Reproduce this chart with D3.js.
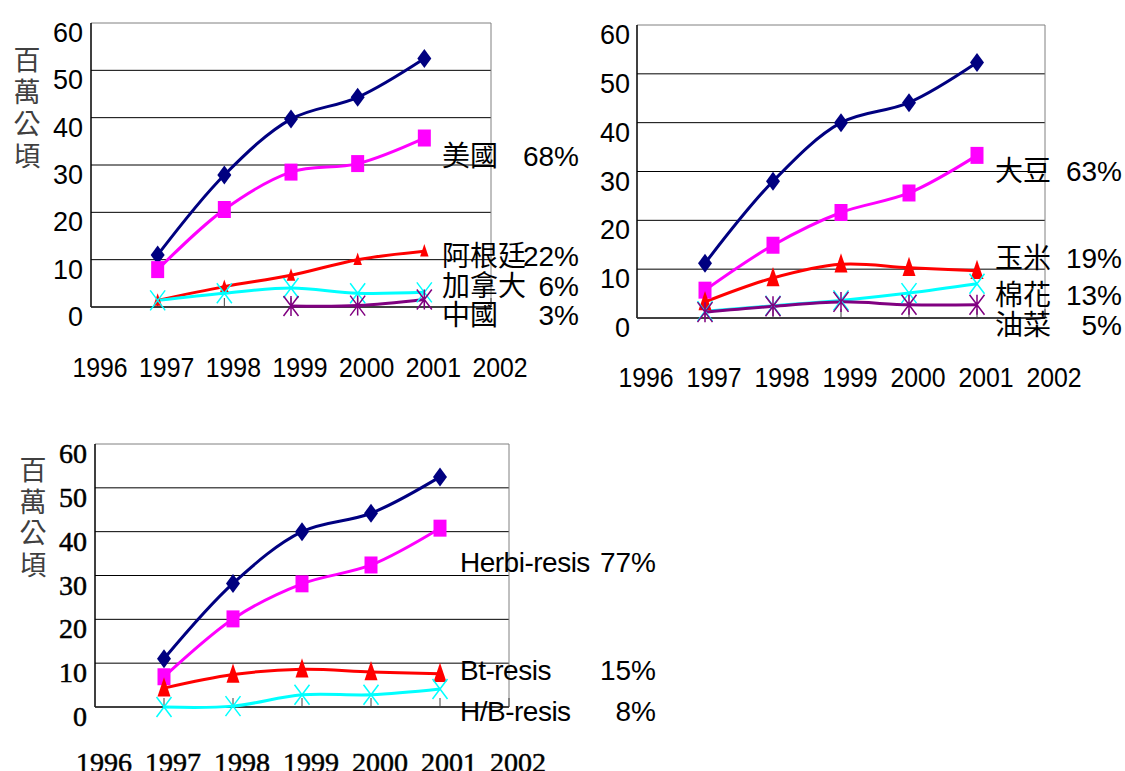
<!DOCTYPE html>
<html>
<head>
<meta charset="utf-8">
<script src="https://cdn.jsdelivr.net/npm/d3@7"></script>
<style>
body { margin: 0; background: #fff; }
svg { display: block; }
</style>
</head>
<body>
<div class="data_figure"></div>
<script>
// shared categories / ticks
const years = [1997, 1998, 1999, 2000, 2001];
const yearTicks = [1996, 1997, 1998, 1999, 2000, 2001, 2002];
const valueTicks = [0, 10, 20, 30, 40, 50, 60];
const unitLabel = ["百", "萬", "公", "頃"];

// chart 1: by country (million hectares)
const countryTotal = [11.0, 27.9, 39.7, 44.3, 52.5];
const countryUSA = [7.9, 20.6, 28.5, 30.3, 35.7];
const countryArgentina = [1.4, 4.3, 6.7, 10.0, 11.8];
const countryCanada = [1.4, 2.9, 4.0, 2.9, 3.1];
const countryChina = [null, null, 0.2, 0.3, 1.6];
const countryNames = ["美國", "阿根廷", "加拿大", "中國"];
const countryShares = ["68%", "22%", "6%", "3%"];

// chart 2: by crop
const cropTotal = [11.2, 28.0, 40.0, 44.1, 52.3];
const cropSoy = [5.7, 14.9, 21.6, 25.6, 33.3];
const cropCorn = [3.3, 8.2, 11.0, 10.3, 9.7];
const cropCotton = [1.4, 2.5, 3.6, 5.1, 7.0];
const cropCanola = [1.2, 2.4, 3.3, 2.7, 2.7];
const cropNames = ["大豆", "玉米", "棉花", "油菜"];
const cropShares = ["63%", "19%", "13%", "5%"];

// chart 3: by trait
const traitTotal = [11.0, 28.2, 40.0, 44.2, 52.5];
const traitHerb = [6.9, 20.1, 28.1, 32.4, 40.8];
const traitBt = [4.3, 7.4, 8.6, 8.0, 7.6];
const traitStack = [0.0, 0.2, 2.8, 2.8, 4.1];
const traitNames = ["Herbi-resis", "Bt-resis", "H/B-resis"];
const traitShares = ["77%", "15%", "8%"];

const seriesStyle = [
    { color: "#000080", marker: "diamond" },
    { color: "#ff00ff", marker: "square" },
    { color: "#ff0000", marker: "triangle" },
    { color: "#00ffff", marker: "times" },
    { color: "#800080", marker: "asterisk" },
];

const sansFont = '"Liberation Sans", Arial, "Noto Sans CJK TC", sans-serif';
const serifFont = '"Liberation Serif", "Times New Roman", serif';
const cjkFont = '"Noto Sans CJK TC", "Noto Sans CJK SC", sans-serif';

const charts = [
    {
        series: [countryTotal, countryUSA, countryArgentina, countryCanada, countryChina],
        names: countryNames, shares: countryShares,
        left: 91, right: 491, top: 23, bottom: 307,
        serif: false, tickX: 83, yearBase: 377,
        unit: { x: 27, y: 70, step: 32 },
        annX: 442, pctX: 579, annY: [166, 266, 296, 325],
        triScale: 0.65,
    },
    {
        series: [cropTotal, cropSoy, cropCorn, cropCotton, cropCanola],
        names: cropNames, shares: cropShares,
        left: 637, right: 1045, top: 25, bottom: 318,
        serif: false, tickX: 630, yearBase: 387,
        unit: null,
        annX: 995, pctX: 1122, annY: [181, 268, 305, 335],
        triScale: 1,
    },
    {
        series: [traitTotal, traitHerb, traitBt, traitStack],
        names: traitNames, shares: traitShares,
        left: 95, right: 509, top: 444, bottom: 707,
        serif: true, tickX: 87, yearBase: 772,
        unit: { x: 33, y: 480, step: 31.5 },
        annX: 460, pctX: 656, annY: [572, 680, 721],
        triScale: 1,
    },
];

// marker outlines, w/h are half sizes
function markerPath(type, w, h) {
    const p = d3.path();
    if (type === "diamond") {
        p.moveTo(0, -h); p.lineTo(w, 0); p.lineTo(0, h); p.lineTo(-w, 0); p.closePath();
    } else if (type === "square") {
        p.rect(-w, -h, 2 * w, 2 * h);
    } else if (type === "triangle") {
        p.moveTo(0, -h); p.lineTo(w, h * 0.75); p.lineTo(-w, h * 0.75); p.closePath();
    } else if (type === "times") {
        p.moveTo(-w, -h); p.lineTo(w, h); p.moveTo(-w, h); p.lineTo(w, -h);
    } else {
        p.moveTo(-w, -h); p.lineTo(w, h); p.moveTo(-w, h); p.lineTo(w, -h);
        p.moveTo(0, -h); p.lineTo(0, h);
    }
    return p.toString();
}

const svg = d3.select(".data_figure")
    .append("svg")
    .attr("width", 1125)
    .attr("height", 771);

charts.forEach((c) => {
    const x = d3.scaleLinear().domain([1996, 2002]).range([c.left, c.right]);
    const y = d3.scaleLinear().domain([0, 60]).range([c.bottom, c.top]);
    const g = svg.append("g");

    // gridlines
    g.selectAll(".grid")
        .data(valueTicks.filter((v) => v > 0))
        .enter()
        .append("line")
        .attr("x1", c.left).attr("x2", c.right)
        .attr("y1", (d) => y(d)).attr("y2", (d) => y(d))
        .attr("stroke", (d) => d === 60 ? "#808080" : "#000")
        .attr("stroke-width", 1);
    g.append("line")
        .attr("x1", c.right).attr("x2", c.right)
        .attr("y1", y(60)).attr("y2", y(0))
        .attr("stroke", "#808080");

    // axes
    g.append("line")
        .attr("x1", c.left).attr("x2", c.left)
        .attr("y1", y(60)).attr("y2", y(0))
        .attr("stroke", "#000").attr("stroke-width", 1.5);
    g.append("line")
        .attr("x1", c.left).attr("x2", c.right)
        .attr("y1", y(0)).attr("y2", y(0))
        .attr("stroke", "#000").attr("stroke-width", 1.5);
    g.selectAll(".xtick")
        .data(yearTicks)
        .enter()
        .append("line")
        .attr("x1", (d) => x(d)).attr("x2", (d) => x(d))
        .attr("y1", y(0)).attr("y2", y(0) - 9)
        .attr("stroke", "#404040");

    // tick labels
    const tickFont = c.serif ? serifFont : sansFont;
    const tickSize = c.serif ? "28px" : "27px";
    const heavy = c.serif ? 0.5 : 0;
    g.selectAll(".ylab")
        .data(valueTicks)
        .enter()
        .append("text")
        .attr("x", c.tickX)
        .attr("y", (d) => y(d) + 19)
        .attr("text-anchor", "end")
        .attr("stroke", "#000").attr("stroke-width", heavy)
        .style("font-family", tickFont)
        .style("font-size", tickSize)
        .text((d) => d);
    g.selectAll(".xlab")
        .data(yearTicks)
        .enter()
        .append("text")
        .attr("transform", (d) => "translate(" + (x(d) + 9) + "," + c.yearBase + ") scale(" + (c.serif ? 1 : 0.92) + ",1)")
        .attr("text-anchor", "middle")
        .attr("stroke", "#000").attr("stroke-width", heavy)
        .style("font-family", tickFont)
        .style("font-size", tickSize)
        .text((d) => d);

    // vertical unit label
    if (c.unit) {
        g.selectAll(".unit")
            .data(unitLabel)
            .enter()
            .append("text")
            .attr("x", c.unit.x)
            .attr("y", (d, i) => c.unit.y + i * c.unit.step)
            .attr("text-anchor", "middle")
            .attr("fill", "#404040")
            .style("font-family", cjkFont)
            .style("font-size", "27px")
            .text((d) => d);
    }

    // series lines
    const line = d3.line()
        .defined((d) => d != null)
        .x((d, i) => x(years[i]))
        .y((d) => y(d))
        .curve(d3.curveCatmullRom.alpha(0.5));

    c.series.forEach((vals, si) => {
        const st = seriesStyle[si];
        g.append("path")
            .datum(vals)
            .attr("d", line)
            .attr("fill", "none")
            .attr("stroke", st.color)
            .attr("stroke-width", 3);
    });

    c.series.forEach((vals, si) => {
        const st = seriesStyle[si];
        const pts = vals.map((v, i) => ({ year: years[i], v: v })).filter((d) => d.v != null);
        let w = 7, h = 9.5;
        if (st.marker === "square") { w = 6.5; h = 8.5; }
        if (st.marker === "triangle") { w = 6.5 * c.triScale; h = 11 * c.triScale; }
        if (st.marker === "times" || st.marker === "asterisk") { w = 7.5; h = 10; }
        const filled = st.marker === "diamond" || st.marker === "square" || st.marker === "triangle";
        g.selectAll(".m" + si)
            .data(pts)
            .enter()
            .append("path")
            .attr("transform", (d) => "translate(" + x(d.year) + "," + y(d.v) + ")")
            .attr("d", markerPath(st.marker, w, h))
            .attr("fill", filled ? st.color : "none")
            .attr("stroke", st.color)
            .attr("stroke-width", filled ? 0 : 1.5);
    });

    // share annotations
    c.names.forEach((n, i) => {
        g.append("text")
            .attr("x", c.annX)
            .attr("y", c.annY[i])
            .style("font-family", sansFont)
            .style("font-size", "28px")
            .style("letter-spacing", c.serif ? "-0.5px" : "0px")
            .text(n);
        g.append("text")
            .attr("x", c.pctX)
            .attr("y", c.annY[i])
            .attr("text-anchor", "end")
            .style("font-family", sansFont)
            .style("font-size", "28px")
            .text(c.shares[i]);
    });
});
</script>
</body>
</html>
